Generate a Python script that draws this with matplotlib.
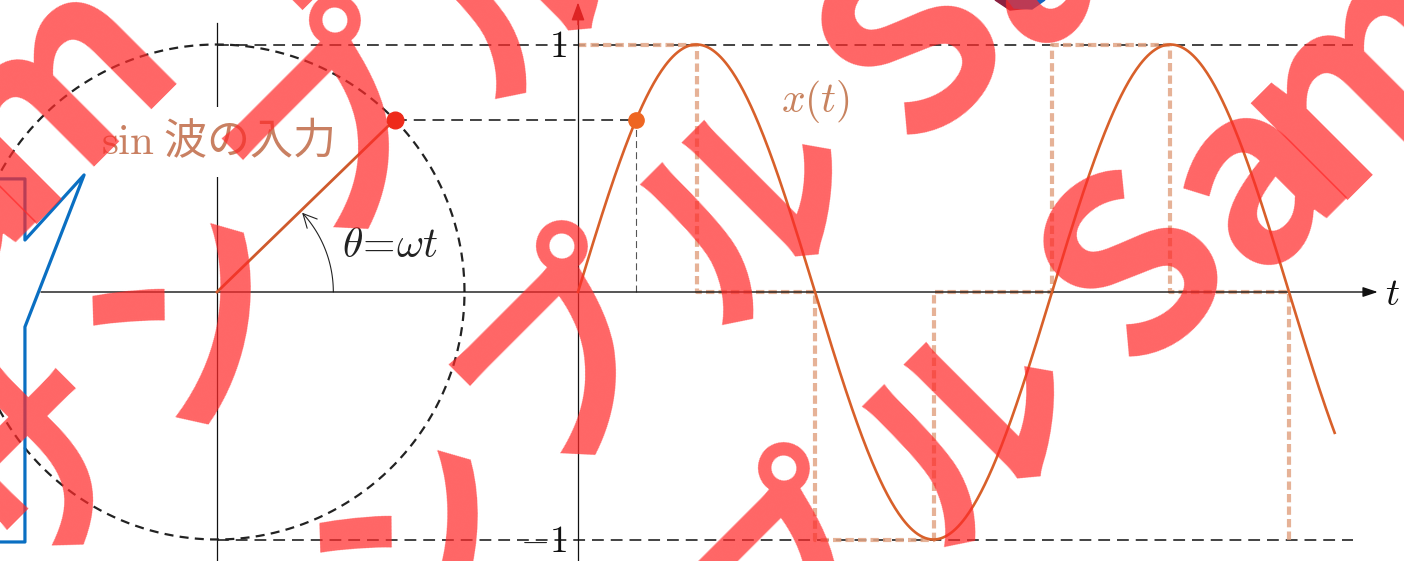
import numpy as np
import matplotlib.pyplot as plt
from matplotlib.path import Path
from matplotlib.patches import FancyArrowPatch

plt.rcParams['mathtext.fontset'] = 'cm'
plt.rcParams['lines.scale_dashes'] = False

# values
theta = 0.77                                   # angle of the marked input point (rad)
levels = [1, -1]                               # dashed reference levels
level_labels = ['$1$', '$-1$']
phase_end = 10.03                              # sine is drawn up to this phase (rad)
step_bounds = [0, 0.25, 0.5, 0.75, 1.0, 1.25, 1.5]   # in periods
step_vals = [1, 0, -1, 0, 1, 0, -1]

# blue frame cut off at the left edge (units of the circle radius)
frame_x = [-0.90, -0.776, -0.776, -0.537, -0.776, -0.776, -0.90]
frame_y = [0.457, 0.457, 0.210, 0.473, -0.141, -1.010, -1.010]

# watermark: characters, position along the row, extra offset across it, size
wm_chars = ['サ', 'ン', 'プ', 'ル', 'S', 'a', 'm', 'p', 'l', 'e']
wm_u = [-440, -113, 214, 541, 870, 1077, 1295, 1720, 1870, 2000]
wm_dv = [0, 0, -40, 0, 0, 25, 20, 0, 0, 0]
wm_pt = [156, 156, 156, 156, 176, 176, 176, 176, 176, 176]
wm_rows = [(95, -1335), (485, 0), (938, 0), (1382, 0)]

W, H = 1404, 561
scale = 247.5            # pixels per unit (circle radius)
cx, cy = 217, 292        # circle centre in pixels

fig = plt.figure(figsize=(W / 100, H / 100), dpi=100)
ax = fig.add_axes([0, 0, 1, 1])
ax.set_xlim(-cx / scale, (W - cx) / scale)
ax.set_ylim(-(H - cy) / scale, cy / scale)
ax.axis('off')

x0 = (578 - cx) / scale          # origin of the time axis
period = 474 / scale             # one period in units
k = period / (2 * np.pi)

# circle side
phi = np.linspace(0, 2 * np.pi, 400)
ax.plot(np.cos(phi), np.sin(phi), color='#222222', lw=1.6, dashes=(6.5, 4.5), zorder=2)
ax.plot([0, 0], [-1.2, 1.087], color='#111111', lw=0.9, zorder=1)
ax.plot([0, np.cos(theta)], [0, np.sin(theta)], color='#cf5a2c', lw=2.0, zorder=7)
ax.plot(np.cos(theta), np.sin(theta), 'o', color='#ee2a1a', ms=12, zorder=8)

r_arc = 0.47
a = np.linspace(0, theta - 0.02, 60)
arc = FancyArrowPatch(path=Path(np.column_stack([r_arc * np.cos(a), r_arc * np.sin(a)])),
                      arrowstyle='->,head_length=0.7,head_width=0.35', mutation_scale=14,
                      lw=0.8, color='#222222', zorder=3)
ax.add_patch(arc)
ax.text(0.699, 0.19, r'$\theta\!=\!\omega t$', fontsize=30, color='#222222',
        ha='center', va='center', zorder=4)
ax.text(0, 0.606, r'$\mathrm{sin}$ 波の入力', fontsize=31, color='#c98062',
        family=['Noto Sans CJK JP', 'DejaVu Sans'], ha='center', va='center', zorder=6,
        bbox=dict(boxstyle='square,pad=0.3', fc='white', ec='none'))

ax.plot(frame_x, frame_y, color='#0a6fc2', lw=2.3, zorder=3)

# horizontal axis (shared) and time axis
ax.annotate('', xy=(4.69, 0), xytext=(-0.711, 0),
            arrowprops=dict(arrowstyle='-|>,head_length=0.9,head_width=0.3', lw=1.0,
                            color='#111111', shrinkA=0, shrinkB=0), zorder=3)
ax.text(4.72, -0.01, '$t$', fontsize=28, ha='left', va='center', color='#111111')
ax.plot([x0, x0], [-1.2, 1.10], color='#111111', lw=0.9, zorder=3)
ax.annotate('', xy=(x0, 1.17), xytext=(x0, 1.08),
            arrowprops=dict(arrowstyle='-|>,head_length=1.1,head_width=0.4', lw=1.0,
                            color='#8b1515', shrinkA=0, shrinkB=0), zorder=3)

x_end = (1353 - cx) / scale
for lv, lab in zip(levels, level_labels):
    ax.plot([0, x_end], [lv, lv], color='#222222', lw=1.2, dashes=(8.5, 5), zorder=2)
    ax.text(x0 - 0.045, lv - 0.01, lab, fontsize=27, ha='right', va='center', color='#111111')

# stepped dashed guide
ax.step([x0 + b * period for b in step_bounds], step_vals, where='post',
        color='#e2a585', lw=3.0, dashes=(6, 3), alpha=0.85, zorder=2)

# sine wave
ph = np.linspace(0, phase_end, 600)
ax.plot(x0 + k * ph, np.sin(ph), color='#d8602a', lw=1.9, zorder=4)
xd = x0 + k * theta
ax.plot([np.cos(theta), xd], [np.sin(theta)] * 2, color='#222222', lw=1.2, dashes=(8.5, 5), zorder=2)
ax.plot([xd, xd], [0, np.sin(theta)], color='#555555', lw=0.8, dashes=(5, 3), zorder=2)
ax.plot(xd, np.sin(theta), 'o', color='#ee6622', ms=11, zorder=5)
ax.text(2.42, 0.768, '$x(t)$', fontsize=30, color='#c8835f', ha='center', va='center', zorder=4)

# small blue object at the top edge
ax.fill([(995 - cx) / scale, (1040 - cx) / scale, (1030 - cx) / scale, (1010 - cx) / scale],
        [cy / scale, cy / scale, (cy - 8) / scale, (cy - 10) / scale], color='#8b2040', zorder=3)
ax.fill([(1008 - cx) / scale, (1045 - cx) / scale, (1032 - cx) / scale, (1014 - cx) / scale],
        [cy / scale, cy / scale, (cy - 9) / scale, (cy - 8) / scale], color='#1565c0', zorder=3)

# watermark, one glyph at a time along rows at 45 degrees
for v, shift in wm_rows:
    for ch, u, dv, pt in zip(wm_chars, wm_u, wm_dv, wm_pt):
        F = pt * 100 / 72
        uu = u + shift
        vb = v + dv + 0.365 * F * np.sqrt(2)
        px, py = (uu + vb) / 2, (vb - uu) / 2
        if -300 < px < W + 300 and -300 < py < H + 300:
            fig.text(px / W, 1 - py / H, ch, rotation=45, rotation_mode='anchor',
                     ha='center', va='baseline', fontsize=pt, fontweight='bold',
                     family=['Noto Sans CJK JP', 'DejaVu Sans'], color='#ff2a2a',
                     alpha=0.72, zorder=10)

fig.savefig('out.png', dpi=100)
